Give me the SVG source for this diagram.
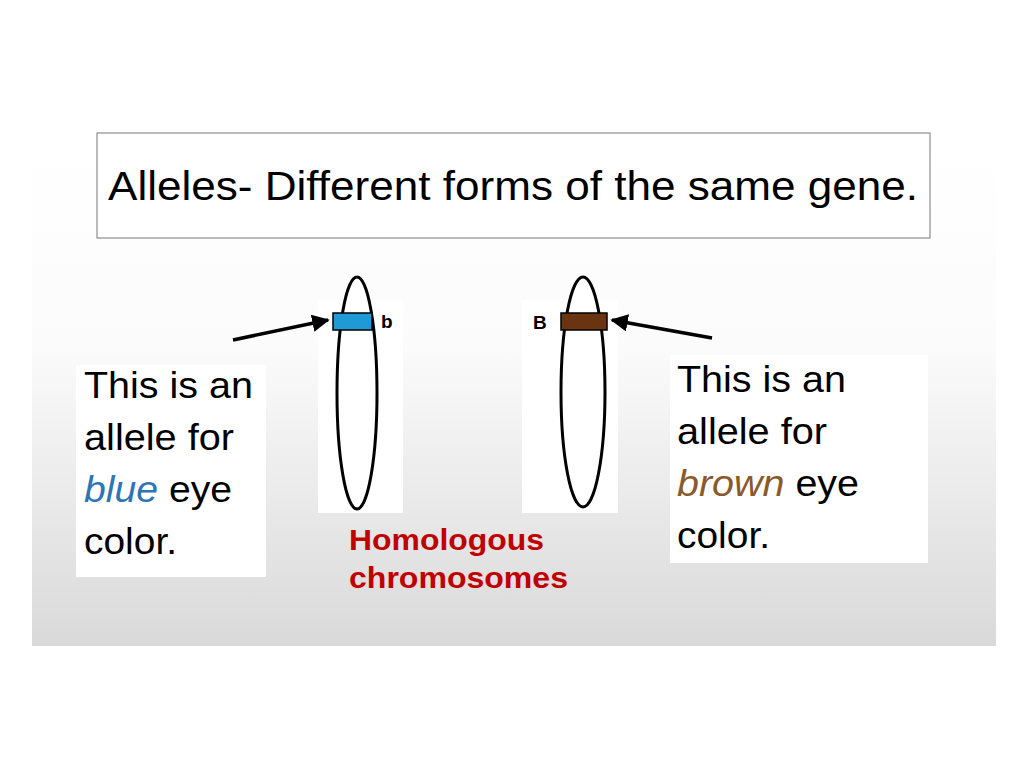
<svg xmlns="http://www.w3.org/2000/svg" width="1024" height="768" viewBox="0 0 1024 768">
<defs>
<linearGradient id="bg" x1="0" y1="0" x2="0" y2="1">
<stop offset="0" stop-color="#ffffff"/><stop offset="0.4" stop-color="#fbfbfb"/><stop offset="1" stop-color="#d9d9d9"/>
</linearGradient>
<marker id="ah" viewBox="0 0 10 10" refX="9" refY="5" markerWidth="5" markerHeight="5" orient="auto"><path d="M0,0L10,5L0,10z" fill="#000"/></marker>
</defs>
<style>
.t{font-family:"Liberation Sans",Arial,sans-serif;font-size:37px;fill:#000}
.r{font-family:"Liberation Sans",Arial,sans-serif;font-size:30px;font-weight:bold;fill:#c00000}
.s{font-family:"Liberation Sans",Arial,sans-serif;font-size:19px;fill:#000}
.w{fill:#fff}
.chr{fill:#fff;stroke:#000;stroke-width:3}
</style>
<rect width="1024" height="768" fill="#fff"/>
<rect x="32" y="150" width="964" height="496" fill="url(#bg)"/>
<g id="title"><rect x="97" y="133" width="833" height="105" fill="#fff" stroke="#777" stroke-width="1"/>
<text class="t" x="108" y="200" style="font-size:41px" textLength="810" lengthAdjust="spacingAndGlyphs">Alleles- Different forms of the same gene.</text></g>
<g id="chrom-b">
<rect class="w" x="318" y="300" width="85" height="213"/>
<ellipse class="chr" cx="357" cy="393" rx="20" ry="116"/>
<rect x="333" y="313" width="39" height="17" fill="#1f9ad6" stroke="#000" stroke-width="1.5"/>
<text class="s" x="381" y="328" font-weight="bold">b</text></g>
<g id="chrom-B">
<rect class="w" x="522" y="300" width="96" height="213"/>
<ellipse class="chr" cx="583" cy="392" rx="22" ry="115"/>
<rect x="561" y="313" width="46" height="17" fill="#6b3410" stroke="#000" stroke-width="1.5"/>
<text class="s" x="533" y="329" font-weight="bold">B</text></g>
<g id="connectors" stroke="#000" stroke-width="3.5" marker-end="url(#ah)">
<line x1="233" y1="340" x2="328" y2="320"/>
<line x1="712" y1="338" x2="612" y2="320"/>
</g>
<g id="left-text"><rect class="w" x="76" y="365" width="190" height="212"/>
<text class="t" x="84" y="398" textLength="169" lengthAdjust="spacingAndGlyphs">This is an</text>
<text class="t" x="84" y="450" textLength="150" lengthAdjust="spacingAndGlyphs">allele for</text>
<text class="t" x="84" y="502" textLength="148" lengthAdjust="spacingAndGlyphs"><tspan fill="#2e75b6" font-style="italic">blue</tspan> eye</text>
<text class="t" x="84" y="554" textLength="93" lengthAdjust="spacingAndGlyphs">color.</text></g>
<g id="right-text"><rect class="w" x="670" y="355" width="258" height="208"/>
<text class="t" x="677" y="392" textLength="169" lengthAdjust="spacingAndGlyphs">This is an</text>
<text class="t" x="677" y="444" textLength="150" lengthAdjust="spacingAndGlyphs">allele for</text>
<text class="t" x="677" y="496" textLength="182" lengthAdjust="spacingAndGlyphs"><tspan fill="#8a5a2b" font-style="italic">brown</tspan> eye</text>
<text class="t" x="677" y="548" textLength="93" lengthAdjust="spacingAndGlyphs">color.</text></g>
<g id="label"><text class="r" x="349" y="550" textLength="195" lengthAdjust="spacingAndGlyphs">Homologous</text><text class="r" x="349" y="588" textLength="219" lengthAdjust="spacingAndGlyphs">chromosomes</text></g>
</svg>
